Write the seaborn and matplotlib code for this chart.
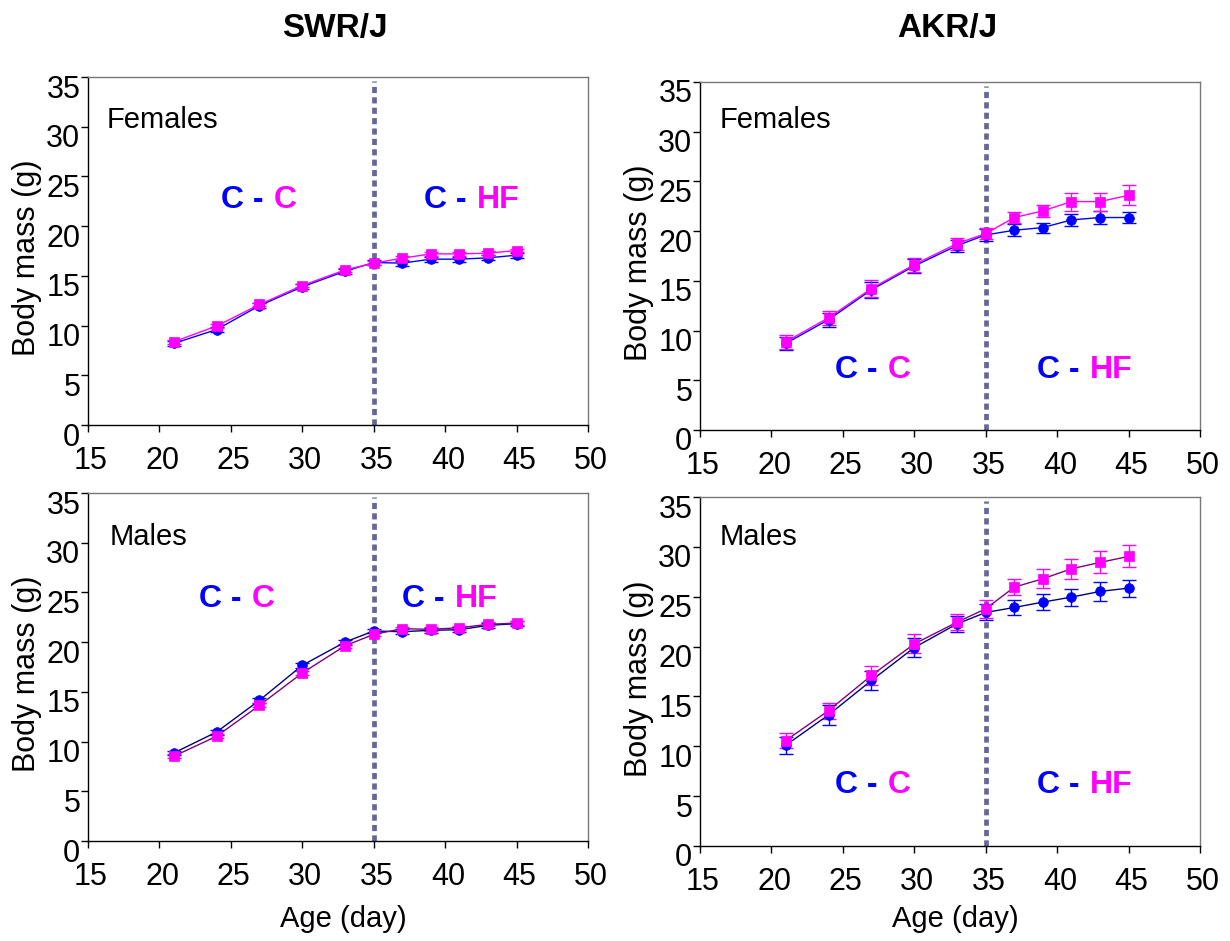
import numpy as np
import pandas as pd
import matplotlib
matplotlib.use("Agg")
import matplotlib.pyplot as plt
import matplotlib.transforms as mtransforms
import seaborn as sns

# ---------------------------------------------------------------- data
age = [21, 24, 27, 30, 33, 35, 37, 39, 41, 43, 45]

# SWR/J females
swr_f_c = [8.2, 9.6, 12.0, 13.9, 15.47, 16.34, 16.28, 16.68, 16.68, 16.81, 17.08]
swr_f_hf = [8.37, 9.95, 12.12, 14.03, 15.6, 16.28, 16.78, 17.21, 17.21, 17.28, 17.55]
swr_f_c_se = [0.25, 0.25, 0.25, 0.25, 0.25, 0.25, 0.25, 0.25, 0.25, 0.25, 0.25]
swr_f_hf_se = [0.2, 0.2, 0.2, 0.2, 0.2, 0.2, 0.2, 0.2, 0.2, 0.2, 0.2]

# AKR/J females
akr_f_c = [8.7, 11.1, 14.1, 16.5, 18.55, 19.62, 20.09, 20.36, 21.13, 21.37, 21.37]
akr_f_hf = [8.87, 11.29, 14.23, 16.64, 18.75, 19.76, 21.37, 22.04, 22.97, 22.97, 23.61]
akr_f_c_se = [0.7, 0.7, 0.8, 0.7, 0.6, 0.6, 0.6, 0.5, 0.6, 0.7, 0.6]
akr_f_hf_se = [0.7, 0.7, 0.85, 0.7, 0.6, 0.6, 0.6, 0.6, 0.9, 0.9, 1.0]

# SWR/J males
swr_m_c = [8.85, 10.96, 14.15, 17.67, 20.01, 21.12, 21.05, 21.19, 21.25, 21.69, 21.86]
swr_m_hf = [8.52, 10.53, 13.64, 16.9, 19.64, 20.78, 21.35, 21.29, 21.45, 21.79, 21.92]
swr_m_c_se = [0.25, 0.25, 0.25, 0.25, 0.25, 0.25, 0.25, 0.25, 0.25, 0.25, 0.25]
swr_m_hf_se = [0.2, 0.2, 0.2, 0.2, 0.2, 0.2, 0.2, 0.2, 0.2, 0.2, 0.2]

# AKR/J males
akr_m_c = [10.1, 13.15, 16.6, 19.9, 22.28, 23.42, 23.92, 24.46, 24.96, 25.53, 25.86]
akr_m_hf = [10.57, 13.58, 17.1, 20.27, 22.45, 23.79, 25.96, 26.8, 27.8, 28.44, 29.04]
akr_m_c_se = [0.85, 1.0, 0.95, 0.95, 0.8, 0.8, 0.8, 0.8, 0.85, 0.95, 0.85]
akr_m_hf_se = [0.75, 0.8, 0.95, 0.95, 0.8, 0.9, 0.8, 0.95, 1.0, 1.1, 1.1]

strains = ["SWR/J", "AKR/J"]
sexes = ["Females", "Males"]
x_ticks = [15, 20, 25, 30, 35, 40, 45, 50]
y_ticks = [0, 5, 10, 15, 20, 25, 30, 35]
diet_switch_day = 35
x_label = "Age (day)"
y_label = "Body mass (g)"

# --------------------------------------------------------------- style
sns.set_style("ticks")
plt.rcParams["font.family"] = ["Liberation Sans", "DejaVu Sans"]

BLUE = "#0000FF"
MAGENTA = "#FF00FF"
SWITCH_COLOR = "#666699"

W, H = 1230, 941
fig = plt.figure(figsize=(W / 100, H / 100), dpi=100)


def px_rect(left, top, right, bottom):
    return [left / W, 1 - bottom / H, (right - left) / W, (bottom - top) / H]


panels = [
    dict(rect=px_rect(88, 77, 588, 425), c=swr_f_c, hf=swr_f_hf, c_se=swr_f_c_se, hf_se=swr_f_hf_se,
         sex=sexes[0], sex_xy=(16.33, 29.84), cc_xy=(24.31, 21.8), chf_xy=(38.52, 21.8),
         line_c=BLUE, line_hf=MAGENTA, xlabel=False),
    dict(rect=px_rect(700, 82, 1200, 430), c=akr_f_c, hf=akr_f_hf, c_se=akr_f_c_se, hf_se=akr_f_hf_se,
         sex=sexes[0], sex_xy=(16.37, 30.34), cc_xy=(24.45, 5.23), chf_xy=(38.59, 5.23),
         line_c=BLUE, line_hf=MAGENTA, xlabel=False),
    dict(rect=px_rect(88, 493, 588, 841), c=swr_m_c, hf=swr_m_hf, c_se=swr_m_c_se, hf_se=swr_m_hf_se,
         sex=sexes[1], sex_xy=(16.51, 29.77), cc_xy=(22.77, 23.56), chf_xy=(36.95, 23.56),
         line_c="#000080", line_hf="#800080", xlabel=True),
    dict(rect=px_rect(700, 497, 1200, 846), c=akr_m_c, hf=akr_m_hf, c_se=akr_m_c_se, hf_se=akr_m_hf_se,
         sex=sexes[1], sex_xy=(16.37, 30.19), cc_xy=(24.45, 5.3), chf_xy=(38.59, 5.3),
         line_c="#000080", line_hf="#800080", xlabel=True),
]


def two_tone(ax, x, y, right):
    t = ax.text(x, y, "C -", color=BLUE, fontsize=23, fontweight="bold",
                ha="left", va="baseline")
    ax.annotate(right, xy=(1, 0), xycoords=t, xytext=(7.5, 0),
                textcoords="offset points", color=MAGENTA, fontsize=23,
                fontweight="bold", ha="left", va="bottom")


for i, p in enumerate(panels):
    ax = fig.add_axes(p["rect"])
    df = pd.DataFrame({"age": age, "C": p["c"], "HF": p["hf"],
                       "C_se": p["c_se"], "HF_se": p["hf_se"]})

    # diet switch marker
    ax.vlines(diet_switch_day, 0, 34.6, colors=SWITCH_COLOR, linewidth=3.4,
              linestyles=(0, (1.3, 0.9)), capstyle="butt", zorder=1)

    for diet, marker, mcol, lcol in (("C", "o", BLUE, p["line_c"]),
                                     ("HF", "s", MAGENTA, p["line_hf"])):
        ax.errorbar(df["age"], df[diet], yerr=df[diet + "_se"], fmt="none",
                    ecolor=mcol, elinewidth=1.0, capsize=5, capthick=1.0, zorder=3)
        sns.lineplot(data=df, x="age", y=diet, ax=ax, color=lcol, linewidth=1.0,
                     marker=marker, markersize=7, markerfacecolor=mcol,
                     markeredgecolor=mcol, markeredgewidth=0.5, errorbar=None,
                     legend=False, zorder=4)

    ax.set_xlim(15, 50)
    ax.set_ylim(0, 35)
    ax.set_xticks(x_ticks)
    ax.set_yticks(y_ticks)
    ax.set_xticklabels([str(v) for v in x_ticks])
    ax.set_yticklabels([str(v) for v in y_ticks])
    ax.set_xlabel("")
    ax.set_ylabel("")
    ax.tick_params(axis="both", direction="out", length=5, width=1.0,
                   color="black", labelsize=22, labelcolor="black")
    ax.tick_params(axis="y", pad=0.5)
    ax.tick_params(axis="x", pad=10)

    # y tick labels sit slightly below their ticks, x labels slightly right
    dy = mtransforms.ScaledTranslation(0, -9 / 100, fig.dpi_scale_trans)
    for lbl in ax.get_yticklabels():
        lbl.set_transform(lbl.get_transform() + dy)
    dx = mtransforms.ScaledTranslation(3 / 100, 0, fig.dpi_scale_trans)
    for lbl in ax.get_xticklabels():
        lbl.set_transform(lbl.get_transform() + dx)

    for side in ("left", "bottom"):
        ax.spines[side].set_color("black")
        ax.spines[side].set_linewidth(1.0)
    for side in ("top", "right"):
        ax.spines[side].set_visible(True)
        ax.spines[side].set_color("#777777")
        ax.spines[side].set_linewidth(1.0)

    ax.text(p["sex_xy"][0], p["sex_xy"][1], p["sex"], fontsize=21,
            ha="left", va="baseline", color="black")
    two_tone(ax, p["cc_xy"][0], p["cc_xy"][1], "C")
    two_tone(ax, p["chf_xy"][0], p["chf_xy"][1], "HF")

    # axis titles placed in figure pixels
    l, b, w, h = p["rect"]
    fig.text(l - 61 / W, b + h / 2 - 7 / H, y_label, rotation=90, fontsize=22,
             ha="center", va="center", color="black")
    if p["xlabel"]:
        fig.text(l + w / 2 + 5 / W, 1 - 927 / H, x_label, fontsize=21,
                 ha="center", va="baseline", color="black")
    if i < 2:
        fig.text(l + w / 2 - 3 / W, 1 - 37 / H, strains[i], fontsize=24,
                 fontweight="bold", ha="center", va="baseline", color="black")

fig.savefig("out.png", dpi=100, facecolor="white")
